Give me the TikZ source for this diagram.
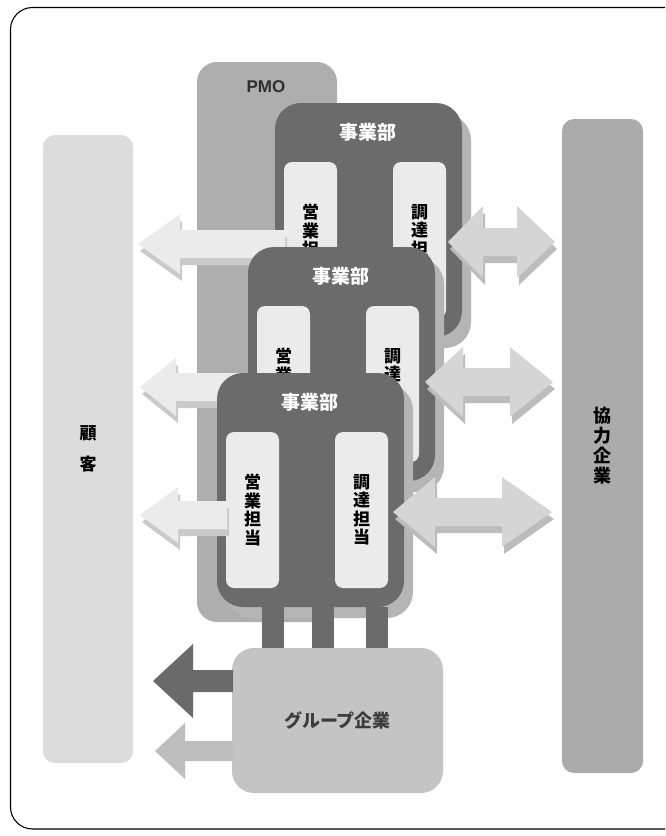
\documentclass[tikz,border=0pt]{standalone}
\usepackage{fontspec}
\setmainfont{Liberation Sans}
\newfontfamily\jp{Noto Sans CJK JP}
\newcommand{\jfs}[2]{\fontsize{#1pt}{#2pt}\selectfont}
\definecolor{dept}{HTML}{6B6B6B}
\definecolor{deptback}{HTML}{B5B5B5}
\definecolor{pmo}{HTML}{AEAEAE}
\definecolor{innerc}{HTML}{EBEBEB}
\definecolor{cust}{HTML}{DCDCDC}
\definecolor{partner}{HTML}{ABABAB}
\definecolor{grp}{HTML}{C4C4C4}
\definecolor{larrow}{HTML}{EBEBEB}
\definecolor{larrowsh}{HTML}{CACACA}
\definecolor{rarrow}{HTML}{D5D5D5}
\definecolor{rarrowsh}{HTML}{BCBCBC}
\definecolor{darkarrow}{HTML}{6A6A6A}
\definecolor{lightarrow}{HTML}{BDBDBD}
\definecolor{grptext}{HTML}{3C3C3C}
\definecolor{pmotext}{HTML}{2E2E2E}
% left-pointing block arrow: tipx, cy, endx, headlen, headhalf, shafthalf, colour
\newcommand{\larr}[7]{%
  \fill[#7] (#1,#2) -- (#1+#4,#2-#5) -- (#1+#4,#2-#6) -- (#3,#2-#6) -- (#3,#2+#6)
    -- (#1+#4,#2+#6) -- (#1+#4,#2+#5) -- cycle;}
% double block arrow: lx, rx, cy, hlL, hlR, headhalf, shafthalf, colour
\newcommand{\darr}[8]{%
  \fill[#8] (#1,#3) -- (#1+#4,#3-#6) -- (#1+#4,#3-#7) -- (#2-#5,#3-#7) -- (#2-#5,#3-#6)
    -- (#2,#3) -- (#2-#5,#3+#6) -- (#2-#5,#3+#7) -- (#1+#4,#3+#7) -- (#1+#4,#3+#6) -- cycle;}
% department block: name, x, y
\newcommand{\deptblock}[3]{%
  \node[blk, fill=deptback, rounded corners=26pt, minimum width=187pt, minimum height=234pt] (#1b) at (#2+9,#3+11) {};
  \node[blk, fill=dept, rounded corners=26pt, minimum width=187pt, minimum height=234pt] (#1) at (#2,#3) {};
  \node[deptlabel] (#1t) at (#2+93,#3+29) {事業部};
  \node[blk, fill=innerc, rounded corners=8pt, minimum width=53pt, minimum height=156pt] (#1s) at (#2+9,#3+59) {};
  \node[vtext] (#1st) at (#1s.center) {営\\業\\担\\当};
  \node[blk, fill=innerc, rounded corners=8pt, minimum width=53pt, minimum height=156pt] (#1p) at (#2+118,#3+59) {};
  \node[vtext] (#1pt) at (#1p.center) {調\\達\\担\\当};
}
\begin{document}
\begin{tikzpicture}[x=1pt,y=-1pt,
  blk/.style={inner sep=0pt, outer sep=0pt, anchor=north west},
  vtext/.style={font=\jp\bfseries\jfs{17}{18.5}, align=center, inner sep=0pt, text=black},
  deptlabel/.style={font=\jp\bfseries\jfs{19}{20}, text=white, inner sep=0pt},
  barline/.style={draw=dept, line width=22pt},
]
\useasboundingbox (0,0) rectangle (665,836);
\fill[white] (0,0) rectangle (665,836);
\begin{scope}
  \clip (0,0) rectangle (665,836);
  \draw[line width=1.1pt, rounded corners=22pt] (10.5,7.5) rectangle (700,829);
\end{scope}

% side columns
\node[blk, fill=cust, rounded corners=12pt, minimum width=90pt, minimum height=628pt] (cust) at (43,135) {};
\node[vtext, font=\jp\bfseries\jfs{17}{31}] (custt) at (cust.center) {顧\\客};
\node[blk, fill=partner, rounded corners=12pt, minimum width=81pt, minimum height=654pt] (partner) at (562,119) {};
\node[vtext, font=\jp\bfseries\jfs{18}{20}] (partnert) at (partner.center) {協\\力\\企\\業};

% PMO
\node[blk, fill=pmo, rounded corners=20pt, minimum width=140pt, minimum height=560pt] (pmo) at (197,62) {};
\node[font=\bfseries\jfs{17}{18}, text=pmotext, inner sep=0pt] (pmot) at (266,87) {PMO};

% department 1
\deptblock{d1}{275}{103}
\begin{scope}[shift={(2,7)}]
  \larr{138}{244}{285}{42}{30}{14}{larrowsh}
  \darr{448}{555}{242}{35}{38}{36}{14}{rarrowsh}
\end{scope}
\larr{138}{244}{285}{42}{30}{14}{larrow}
\darr{448}{555}{242}{35}{38}{36}{14}{rarrow}

% department 2
\deptblock{d2}{248}{247}
\begin{scope}[shift={(2,7)}]
  \larr{140}{387}{258}{36}{29}{14}{larrowsh}
  \darr{425}{553}{382}{38}{43}{35}{14}{rarrowsh}
\end{scope}
\larr{140}{387}{258}{36}{29}{14}{larrow}
\darr{425}{553}{382}{38}{43}{35}{14}{rarrow}

% department 3
\deptblock{d3}{217}{373}
\begin{scope}[shift={(2,7)}]
  \larr{140}{515}{227}{38}{28}{14}{larrowsh}
  \darr{393}{552}{512}{42}{50}{35}{14}{rarrowsh}
\end{scope}
\larr{140}{515}{227}{38}{28}{14}{larrow}
\darr{393}{552}{512}{42}{50}{35}{14}{rarrow}

% group companies
\node[blk, fill=grp, rounded corners=22pt, minimum width=211pt, minimum height=145pt] (grp) at (232,648) {};
\node[font=\jp\bfseries\jfs{18}{20}, text=grptext, inner sep=0pt] (grpt) at (grp.center) {グループ企業};
\draw[barline] ([xshift=-38pt]d3.south) -- ([xshift=-38pt]d3.south |- grp.north);
\draw[barline] ([xshift=12pt]d3.south) -- ([xshift=12pt]d3.south |- grp.north);
\draw[barline] ([xshift=66pt]d3.south) -- ([xshift=66pt]d3.south |- grp.north);

\larr{153}{681}{233}{40}{37}{11}{darkarrow}
\larr{155}{751}{233}{30}{28}{10}{lightarrow}
\end{tikzpicture}
\end{document}
